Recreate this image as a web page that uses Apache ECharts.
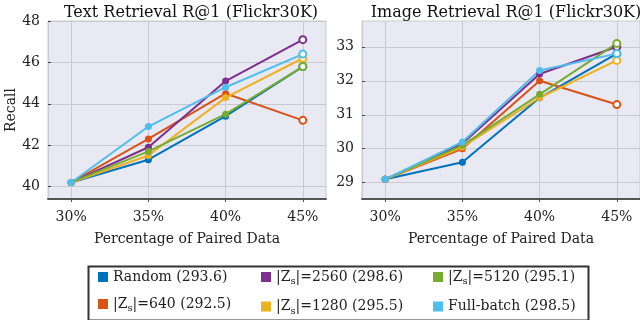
<!DOCTYPE html>
<html lang="en">
<head>
    <meta charset="UTF-8">
    <title>Retrieval R@1</title>
    <style type="text/css">
        html,
        body,
        .canvas {
            padding: 0;
            margin: 0;
            overflow: hidden;
            background-color: #fff;
            width: 640px;
            height: 320px;
        }
    </style>
</head>
<body>
<div class="canvas" id="chart"></div>
<script type="text/javascript" src="https://cdn.jsdelivr.net/npm/echarts@6/dist/echarts.min.js"></script>
<script>
    // x positions (percentage of paired data)
    const pairedPct = [30, 35, 40, 45];
    const xTicks = [30, 35, 40, 45];
    const textTicks = [40, 42, 44, 46, 48];
    const imageTicks = [29, 30, 31, 32, 33];

    const names = ['Random (293.6)', '|Zs|=640 (292.5)', '|Zs|=2560 (298.6)',
        '|Zs|=1280 (295.5)', '|Zs|=5120 (295.1)', 'Full-batch (298.5)'];
    const colors = ['#0072BD', '#D95319', '#7E2F8E', '#EDB120', '#77AC30', '#4DBEEE'];

    // Text Retrieval R@1
    const textRandom = [40.2, 41.3, 43.4, 45.8];
    const text640 = [40.2, 42.3, 44.5, 43.2];
    const text2560 = [40.2, 41.9, 45.1, 47.1];
    const text1280 = [40.2, 41.5, 44.3, 46.2];
    const text5120 = [40.2, 41.7, 43.5, 45.8];
    const textFull = [40.2, 42.9, 44.8, 46.4];

    // Image Retrieval R@1
    const imgRandom = [29.1, 29.6, 31.5, 32.8];
    const img640 = [29.1, 30.0, 32.0, 31.3];
    const img2560 = [29.1, 30.15, 32.2, 33.0];
    const img1280 = [29.1, 30.05, 31.5, 32.6];
    const img5120 = [29.1, 30.1, 31.6, 33.1];
    const imgFull = [29.1, 30.2, 32.3, 32.8];

    const textData = [textRandom, text640, text2560, text1280, text5120, textFull];
    const imgData = [imgRandom, img640, img2560, img1280, img5120, imgFull];

    const font = 'DejaVu Serif';
    const plotBg = '#E9E9F3';
    const gridColor = '#C9C9D2';

    function makeSeries(values, i, axisIdx) {
        return {
            name: names[i],
            type: 'line',
            xAxisIndex: axisIdx,
            yAxisIndex: axisIdx,
            symbol: 'circle',
            symbolSize: 7,
            color: colors[i],
            lineStyle: {width: 2},
            animation: false,
            data: values.map(function (v, j) {
                const last = j === values.length - 1;
                return {
                    value: [pairedPct[j], v],
                    symbol: last ? 'emptyCircle' : 'circle',
                    symbolSize: 7,
                    itemStyle: last ? {borderWidth: 1.6} : undefined
                };
            })
        };
    }

    function xAxis(gridIdx) {
        return {
            type: 'value', gridIndex: gridIdx, min: 28.5, max: 46.5,
            name: 'Percentage of Paired Data', nameLocation: 'middle', nameGap: 33,
            nameTextStyle: {fontFamily: font, fontSize: 14, color: '#222'},
            axisLine: {show: true, lineStyle: {color: '#555', width: 2}},
            axisTick: {show: true, inside: false, length: 3, customValues: xTicks, lineStyle: {color: '#555'}},
            axisLabel: {customValues: xTicks, formatter: '{value}%', margin: 11,
                fontFamily: font, fontSize: 14, color: '#222'},
            splitLine: {show: true, lineStyle: {color: gridColor, width: 1}}
        };
    }

    function yAxis(gridIdx, min, max, ticks, name) {
        return {
            type: 'value', gridIndex: gridIdx, min: min, max: max,
            name: name, nameLocation: 'middle', nameGap: 30,
            nameTextStyle: {fontFamily: font, fontSize: 14, color: '#222'},
            axisLine: {show: true, lineStyle: {color: gridColor}},
            axisTick: {show: true, inside: true, length: 3, customValues: ticks, lineStyle: {color: '#444'}},
            axisLabel: {customValues: ticks, margin: 8, fontFamily: font, fontSize: 14, color: '#222'},
            splitLine: {show: true, lineStyle: {color: gridColor, width: 1}}
        };
    }

    function legendCol(left, items) {
        return {
            orient: 'vertical', left: left, top: 270, height: 60, padding: 0,
            itemWidth: 10, itemHeight: 10, itemGap: 13,
            icon: 'rect',
            data: items,
            formatter: function (n) {
                return n.replace('Zs', 'Z{sub|s}');
            },
            textStyle: {
                fontFamily: font, fontSize: 14, color: '#222',
                rich: {sub: {fontFamily: font, fontSize: 10, color: '#222', padding: [9, 0, 0, 0]}}
            }
        };
    }

    const chart = echarts.init(document.getElementById('chart'), null, {renderer: 'canvas'});

    const series = [];
    textData.forEach(function (d, i) { series.push(makeSeries(d, i, 0)); });
    imgData.forEach(function (d, i) { series.push(makeSeries(d, i, 1)); });

    chart.setOption({
        animation: false,
        backgroundColor: '#fff',
        title: [
            {text: 'Text Retrieval R@1 (Flickr30K)', left: 186, top: 0, textAlign: 'center',
                textStyle: {fontFamily: font, fontSize: 16, fontWeight: 'normal', color: '#111'}},
            {text: 'Image Retrieval R@1 (Flickr30K)', left: 501, top: 0, textAlign: 'center',
                textStyle: {fontFamily: font, fontSize: 16, fontWeight: 'normal', color: '#111'}}
        ],
        grid: [
            {left: 48, right: 314, top: 21, bottom: 121, show: true, backgroundColor: plotBg,
                borderColor: gridColor, borderWidth: 1},
            {left: 362, right: -1, top: 21, bottom: 121, show: true, backgroundColor: plotBg,
                borderColor: gridColor, borderWidth: 1}
        ],
        xAxis: [xAxis(0), xAxis(1)],
        yAxis: [
            yAxis(0, 39.4, 48, textTicks, 'Recall'),
            yAxis(1, 28.52, 33.76, imageTicks, '')
        ],
        legend: [
            legendCol(98, [names[0], names[1]]),
            legendCol(261, [names[2], names[3]]),
            legendCol(433, [names[4], names[5]])
        ],
        graphic: [{
            type: 'rect', left: 86, top: 264, silent: true,
            shape: {width: 500, height: 54},
            style: {fill: 'none', stroke: '#333', lineWidth: 2}
        }],
        series: series
    });
</script>
</body>
</html>
